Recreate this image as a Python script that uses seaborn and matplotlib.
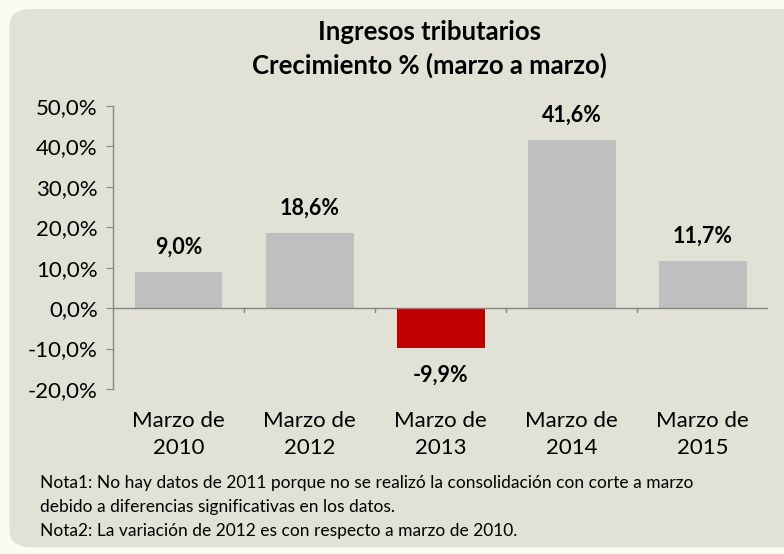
import matplotlib
matplotlib.use("Agg")
import matplotlib.pyplot as plt
from matplotlib.patches import FancyBboxPatch
from matplotlib.ticker import FuncFormatter, FixedLocator
import seaborn as sns
import pandas as pd

categorias = ["Marzo de\n2010", "Marzo de\n2012", "Marzo de\n2013", "Marzo de\n2014", "Marzo de\n2015"]
crecimiento = [9.0, 18.6, -9.9, 41.6, 11.7]
etiquetas = ["9,0%", "18,6%", "-9,9%", "41,6%", "11,7%"]
titulo = "Ingresos tributarios\nCrecimiento % (marzo a marzo)"
notas = ["Nota1: No hay datos de 2011 porque no se realizó la consolidación con corte a marzo",
         "debido a diferencias significativas en los datos.",
         "Nota2: La variación de 2012 es con respecto a marzo de 2010."]

sns.set_style("white")
plt.rcParams['font.family'] = ['Lato', 'DejaVu Sans']
plt.rcParams['text.color'] = 'black'
plt.rcParams['xtick.color'] = 'black'
plt.rcParams['ytick.color'] = 'black'

df = pd.DataFrame({"cat": categorias, "val": crecimiento})
colores = ["#c00000" if v < 0 else "#bfbfbf" for v in crecimiento]

fig = plt.figure(figsize=(7.84, 5.54), dpi=100)
fig.patch.set_facecolor("#fbfcf1")
panel = FancyBboxPatch((0.012, 0.012), 1.05, 0.972, boxstyle="round,pad=0,rounding_size=0.03",
                       transform=fig.transFigure, facecolor="#e1e2d5", edgecolor="none", zorder=-10)
fig.patches.append(panel)

ax = fig.add_axes([0.1441, 0.2978, 0.836, 0.511])
ax.set_facecolor("none")
sns.barplot(data=df, x="cat", y="val", hue="cat", palette=colores, legend=False,
            width=0.67, ax=ax, saturation=1, edgecolor="none", linewidth=0)

ax.set_ylim(-20, 50)
ax.set_xlim(-0.5, 4.5)
ax.yaxis.set_major_locator(FixedLocator(range(-20, 51, 10)))
ax.yaxis.set_major_formatter(FuncFormatter(lambda v, p: f"{v:.1f}%".replace(".", ",")))
ax.set_xlabel("")
ax.set_ylabel("")

for s in ["top", "right", "bottom"]:
    ax.spines[s].set_visible(False)
ax.spines["left"].set_color("#868686")
ax.spines["left"].set_linewidth(1)
ax.axhline(0, color="#868686", lw=1, zorder=1)
for b in [0.5, 1.5, 2.5, 3.5]:
    ax.plot([b, b], [0, -1.0], color="#868686", lw=1, clip_on=False)

ax.tick_params(axis="y", length=5, color="#868686", labelcolor="black", labelsize=16, pad=6,
               direction="out", left=True)
ax.tick_params(axis="x", length=0, labelcolor="black", labelsize=16, pad=16)
ax.set_xticks(range(5))
ax.set_xticklabels(categorias, linespacing=1.4)

for i, (v, t) in enumerate(zip(crecimiento, etiquetas)):
    if v >= 0:
        ax.annotate(t, (i, v), xytext=(0, 10), textcoords="offset points",
                    ha="center", va="bottom", fontsize=15.5, fontweight="bold", color="black")
    else:
        ax.annotate(t, (i, v), xytext=(0, -12), textcoords="offset points",
                    ha="center", va="top", fontsize=15.5, fontweight="bold", color="black")

fig.text(0.548, 0.9116, titulo, ha="center", va="center", fontsize=18.5, fontweight="bold",
         linespacing=1.4, color="black")
fig.text(0.051, 0.0848, "\n".join(notas), ha="left", va="center", fontsize=12.5,
         linespacing=1.65, color="black")

fig.savefig("out.png", dpi=100, facecolor=fig.get_facecolor())
